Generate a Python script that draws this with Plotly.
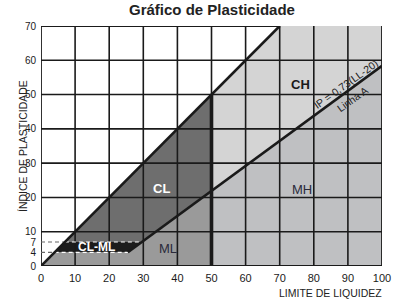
import plotly.graph_objects as go

# ---- data ----
ll_ticks = [0, 10, 20, 30, 40, 50, 60, 70, 80, 90, 100]
ip_ticks = [0, 4, 7, 10, 20, 30, 40, 50, 60, 70]
grid_x = [10, 20, 30, 40, 50, 60, 70, 80, 90]
grid_y = [10, 20, 30, 40, 50, 60]
a_coef = 0.73          # Linha A: IP = 0,73 (LL - 20)
a_offset = 20
u_slope = 1.0          # upper line IP = LL
ll_split = 50          # LL = 50 divides low / high plasticity
band_low, band_high = 4, 7
ll_max, ip_max = 100, 70

labels = ["CH", "CL", "MH", "ML", "CL-ML"]
label_x = [76.0, 35.4, 76.6, 37.2, 16.2]
label_y = [52.8, 22.7, 22.2, 5.2, 5.6]


def a_line(ll):
    return a_coef * (ll - a_offset)


def a_inv(ip):
    return ip / a_coef + a_offset


def u_inv(ip):
    return ip / u_slope


aL = a_line(ll_split)
aR = a_line(ll_max)
x_a4, x_a7 = a_inv(band_low), a_inv(band_high)
x_u4, x_u7 = u_inv(band_low), u_inv(band_high)
x_utop = u_inv(ip_max)

fig = go.Figure()


def poly(xs, ys, color):
    fig.add_trace(go.Scatter(x=xs, y=ys, fill="toself", fillcolor=color, mode="none",
                             hoverinfo="skip", showlegend=False))


# ML
poly([0, ll_split, ll_split, x_a4, x_u4, 0], [0, 0, aL, band_low, band_low, 0], "#9a9a9a")
# CL-ML band
poly([x_u4, x_a4, x_a7, x_u7], [band_low, band_low, band_high, band_high], "#1c1c1c")
# CL
poly([x_u7, x_a7, ll_split, ll_split], [band_high, band_high, aL, ll_split * u_slope], "#6e6e6e")
# CH
poly([ll_split, ll_max, ll_max, x_utop, ll_split], [aL, aR, ip_max, ip_max, ll_split * u_slope], "#d4d4d4")
# MH
poly([ll_split, ll_max, ll_max, ll_split], [0, 0, aR, aL], "#bfc0c2")


def seg_trace(segs, color, width, dash="solid"):
    xs, ys = [], []
    for (x0, y0, x1, y1) in segs:
        xs += [x0, x1, None]
        ys += [y0, y1, None]
    fig.add_trace(go.Scatter(x=xs, y=ys, mode="lines",
                             line=dict(color=color, width=width, dash=dash),
                             hoverinfo="skip", showlegend=False))


# grid
segs = [(gx, 0, gx, ip_max) for gx in grid_x] + [(0, gy, ll_max, gy) for gy in grid_y]
seg_trace(segs, "#1a1a1a", 1.6)
# frame
seg_trace([(0, 0, ll_max, 0), (0, 0, 0, ip_max), (ll_max, 0, ll_max, ip_max), (0, ip_max, x_utop, ip_max)],
          "#1a1a1a", 1.8)
seg_trace([(x_utop + 8, ip_max + 0.4, ll_max, ip_max + 0.4)], "#cfcfcf", 1.2)
# dashed band limits
seg_trace([(0, band_high, x_u7, band_high), (0, band_low, x_u4, band_low)], "#666666", 1.2, "4px,3px")
seg_trace([(x_u7, band_high, x_a7, band_high), (x_u4, band_low, x_a4, band_low)], "#ffffff", 1.2, "4px,3px")
# boundary lines
seg_trace([(0, 0, x_utop, ip_max)], "#1a1a1a", 2.6)
seg_trace([(x_a4, band_low, ll_max, aR)], "#1a1a1a", 2.6)
seg_trace([(ll_split, 0, ll_split, ll_split * u_slope)], "#1a1a1a", 3.6)

# region labels
styles = {
    "CH": dict(color="#1a1a1a", size=13, bold=True),
    "CL": dict(color="#ffffff", size=13, bold=True),
    "MH": dict(color="#2a2a3a", size=13, bold=False),
    "ML": dict(color="#2a2a3a", size=13, bold=False),
    "CL-ML": dict(color="#ffffff", size=12, bold=True),
}
for t, lx, ly in zip(labels, label_x, label_y):
    s = styles[t]
    fig.add_annotation(x=lx, y=ly, xref="x", yref="y",
                       text=f"<b>{t}</b>" if s["bold"] else t, showarrow=False,
                       font=dict(family="Liberation Sans, Arial", size=s["size"], color=s["color"]))

# Linha A text
ang = -35.6
fig.add_annotation(x=89.4, y=53.0, text="IP = 0,73(LL-20)", showarrow=False, textangle=ang,
                   font=dict(family="Liberation Sans, Arial", size=10.5, color="#222222"))
fig.add_annotation(x=91.4, y=48.6, text="Linha A", showarrow=False, textangle=ang,
                   font=dict(family="Liberation Sans, Arial", size=10.5, color="#222222"))

# titles
fig.add_annotation(xref="paper", yref="paper", x=0.5, y=1, yshift=17, yanchor="middle",
                   text="<b>Gráfico de Plasticidade</b>", showarrow=False,
                   font=dict(family="Liberation Sans, Arial", size=15, color="#222222"))
fig.add_annotation(xref="paper", yref="paper", x=0, xshift=-26, y=0.5, textangle=-90,
                   text="ÍNDICE DE PLASTICIDADE", showarrow=False,
                   font=dict(family="Liberation Sans, Arial", size=10.5, color="#222222"))
fig.add_annotation(xref="paper", yref="paper", x=1, xanchor="right", xshift=2, y=0, yshift=-27,
                   yanchor="middle", text="LIMITE DE LIQUIDEZ", showarrow=False,
                   font=dict(family="Liberation Sans, Arial", size=10.5, color="#222222"))

fig.update_xaxes(range=[0, ll_max], tickvals=ll_ticks, ticktext=[str(v) for v in ll_ticks],
                 showgrid=False, zeroline=False, showline=False, ticks="", ticklabelstandoff=4,
                 tickfont=dict(family="Liberation Sans, Arial", size=11, color="#1a1a1a"))
fig.update_yaxes(range=[0, ip_max], tickvals=ip_ticks, ticktext=[str(v) for v in ip_ticks],
                 showgrid=False, zeroline=False, showline=False, ticks="", ticklabelstandoff=4,
                 tickfont=dict(family="Liberation Sans, Arial", size=10, color="#1a1a1a"))
fig.update_layout(width=402, height=301, margin=dict(l=41, r=11, t=26, b=35),
                  plot_bgcolor="#ffffff", paper_bgcolor="#ffffff", showlegend=False)

fig.write_html("out.html")
